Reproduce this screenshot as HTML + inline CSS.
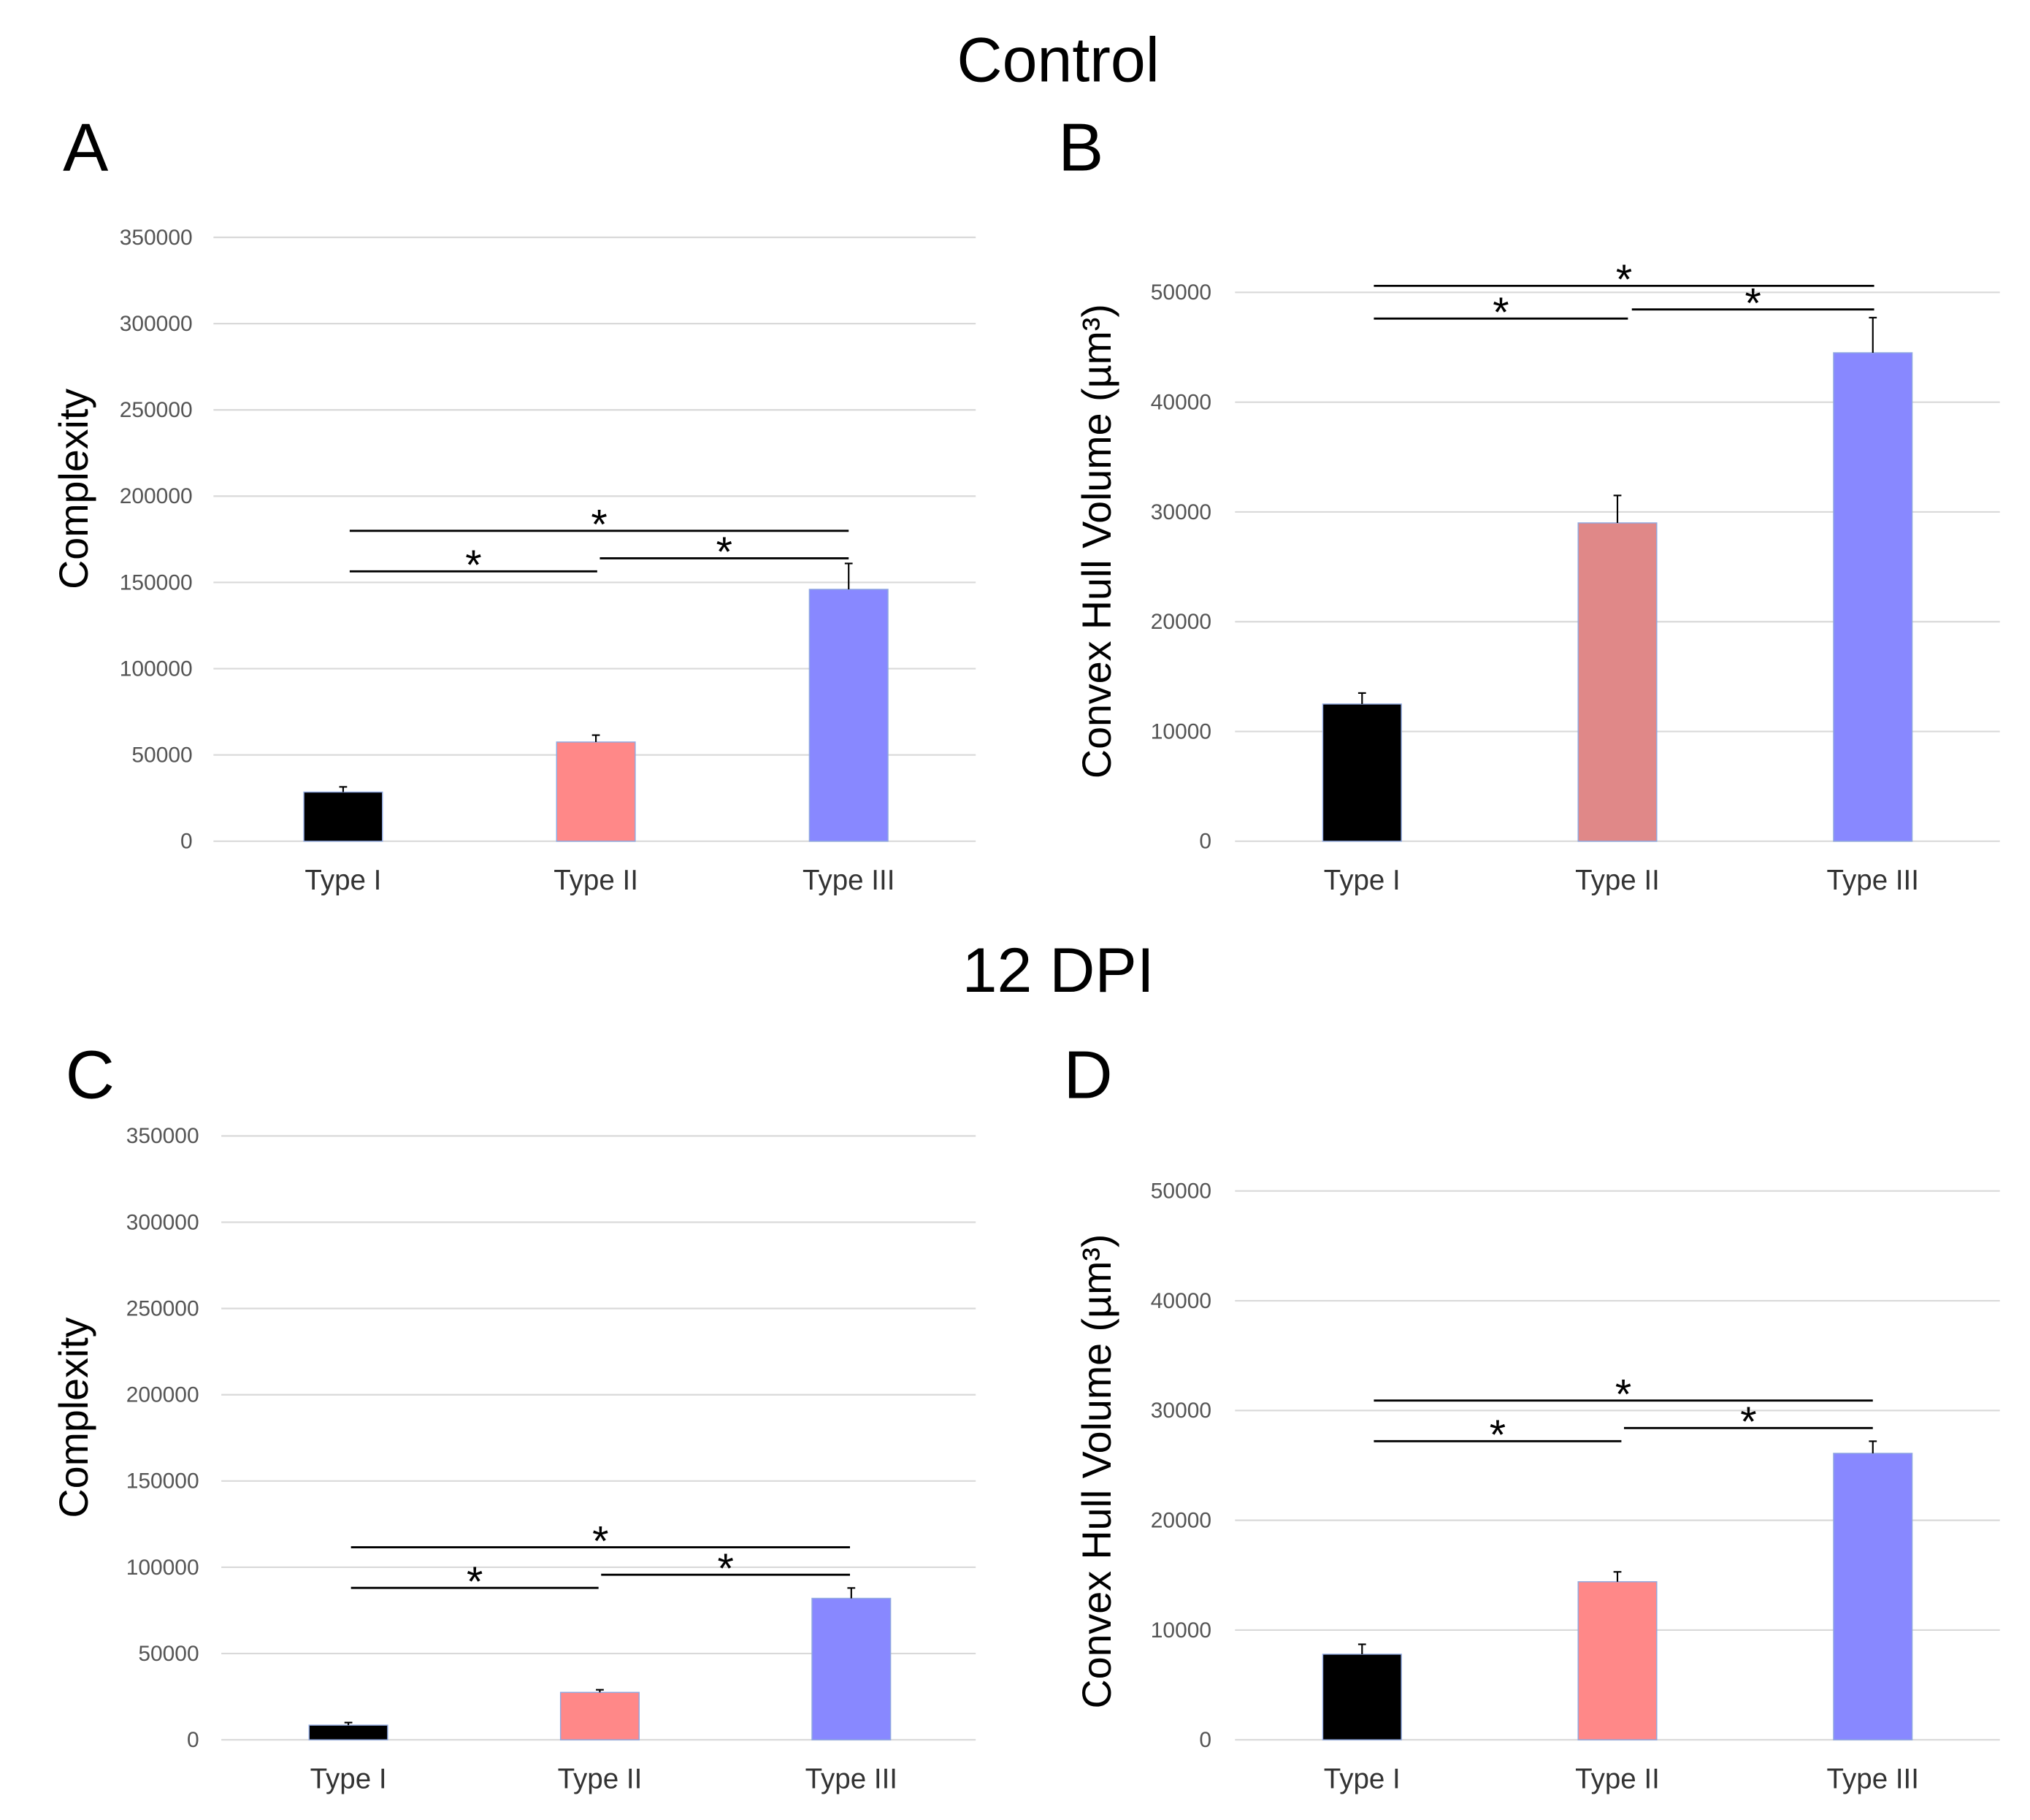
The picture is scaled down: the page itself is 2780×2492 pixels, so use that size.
<!DOCTYPE html>
<html><head><meta charset="utf-8"><style>
html,body{margin:0;padding:0;background:#fff;}
svg{display:block;}
</style></head><body>
<svg id="fig" width="2780" height="2492" viewBox="0 0 1550 1389" xmlns="http://www.w3.org/2000/svg" font-family="Liberation Sans, sans-serif">
<text x="808" y="62" font-size="48" text-anchor="middle">Control</text>
<text x="808" y="757" font-size="48" text-anchor="middle">12 DPI</text>
<text x="48" y="130" font-size="52">A</text>
<text x="808" y="130" font-size="52">B</text>
<text x="50" y="838" font-size="52">C</text>
<text x="812" y="838" font-size="52">D</text>
</svg>
<script>
const categories = ["Type I","Type II","Type III"];
const aValues = [28500, 57500, 146000];
const aErrors = [3000, 4000, 15000];
const bValues = [12500, 29000, 44500];
const bErrors = [1000, 2500, 3200];
const cValues = [8500, 27500, 82000];
const cErrors = [1500, 1500, 6000];
const dValues = [7800, 14400, 26100];
const dErrors = [900, 900, 1100];
const complexityTicks = [0,50000,100000,150000,200000,250000,300000,350000];
const volumeTicks = [0,10000,20000,30000,40000,50000];

const svg = document.getElementById('fig');
const NS = 'http://www.w3.org/2000/svg';
function mk(tag, attrs, parent){ const e=document.createElementNS(NS,tag); for(const k in attrs) e.setAttribute(k,attrs[k]); (parent||svg).appendChild(e); return e; }

const panels = [
 {id:'a', vals:aValues, errs:aErrors, ticks:complexityTicks, max:350000, y0:642, yTop:181, gx0:163, gx1:745, lx:147, cx:[262,455,648], colors:['#000','#ff8888','#8888ff'], title:'Complexity', tx:57, ty:373,
  sig:[[267,648,405],[267,456,436],[458,648,426]]},
 {id:'b', vals:bValues, errs:bErrors, ticks:volumeTicks, max:50000, y0:642, yTop:223, gx0:943, gx1:1527, lx:925, cx:[1040,1235,1430], colors:['#000','#e08888','#8888ff'], title:'Convex Hull Volume (µm³)', tx:838, ty:413,
  sig:[[1049,1431,218],[1049,1243,243],[1246,1431,236]]},
 {id:'c', vals:cValues, errs:cErrors, ticks:complexityTicks, max:350000, y0:1328, yTop:867, gx0:169, gx1:745, lx:152, cx:[266,458,650], colors:['#000','#ff8888','#8888ff'], title:'Complexity', tx:57, ty:1082,
  sig:[[268,649,1181],[268,457,1212],[459,649,1202]]},
 {id:'d', vals:dValues, errs:dErrors, ticks:volumeTicks, max:50000, y0:1328, yTop:909, gx0:943, gx1:1527, lx:925, cx:[1040,1235,1430], colors:['#000','#ff8888','#8888ff'], title:'Convex Hull Volume (µm³)', tx:838, ty:1123,
  sig:[[1049,1430,1069],[1049,1238,1100],[1240,1430,1090]]}
];

panels.forEach(p=>{
  const g = mk('g',{});
  
  
  const y = v => p.y0 - (v/p.max)*(p.y0-p.yTop);
  p.ticks.forEach(t=>{
    const l = mk('line',{x1:p.gx0,x2:p.gx1,y1:y(t),y2:y(t),stroke:'#d9d9d9','stroke-width':1.2},g);
    
    
    const tx = mk('text',{x:p.lx,y:y(t)+5.5,'font-size':16.7,'text-anchor':'end',fill:'#555'},g);
    tx.textContent = t;
    
    
  });
  const yt = mk('text',{x:0,y:0,'font-size':31,'text-anchor':'middle',transform:`translate(${p.tx+10},${p.ty}) rotate(-90)`},g);
  yt.textContent = p.title;
  
  
  categories.forEach((c,i)=>{
    const top = y(p.vals[i]);
    const b = mk('rect',{x:p.cx[i]-30,y:top,width:60,height:p.y0-top,fill:p.colors[i],stroke:'#8fa8e0','stroke-width':0.8},g);
    
    
    const et = y(p.vals[i]+p.errs[i]);
    const e1 = mk('line',{x1:p.cx[i],x2:p.cx[i],y1:top,y2:et,stroke:'#000','stroke-width':1.2},g);
    
    
    mk('line',{x1:p.cx[i]-3,x2:p.cx[i]+3,y1:et,y2:et,stroke:'#000','stroke-width':1.2},g);
    const xl = mk('text',{x:p.cx[i],y:p.y0+37,'font-size':21.5,'text-anchor':'middle',fill:'#333'},g);
    xl.textContent = c;
    
    
  });
  p.sig.forEach(s=>{
    const l = mk('line',{x1:s[0],x2:s[1],y1:s[2],y2:s[2],stroke:'#000','stroke-width':1.6},g);
    
    
    const st = mk('text',{x:(s[0]+s[1])/2,y:s[2]+6,'font-size':32,'text-anchor':'middle'},g);
    st.textContent = '*';
    
    
  });
});
</script>
</body></html>
